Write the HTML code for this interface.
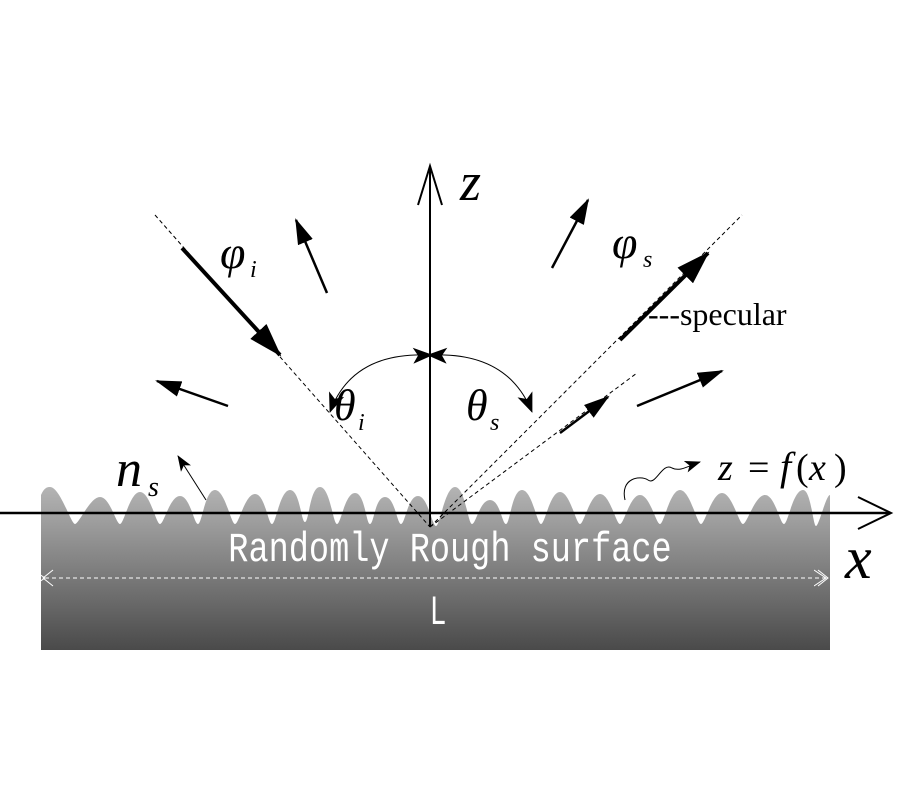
<!DOCTYPE html>
<html><head><meta charset="utf-8"><style>
html,body{margin:0;padding:0;background:#fff;}
svg{display:block}
</style></head><body>
<svg width="900" height="800" viewBox="0 0 900 800" xmlns="http://www.w3.org/2000/svg">
<defs>
<linearGradient id="g" x1="0" y1="0" x2="0" y2="1">
<stop offset="0" stop-color="#b4b4b4"/><stop offset="1" stop-color="#4a4a4a"/>
</linearGradient>
<marker id="big" markerUnits="userSpaceOnUse" markerWidth="34" markerHeight="22" refX="32" refY="11" orient="auto"><path d="M0,0 L34,11 L0,22 Z" fill="#000"/></marker>
<marker id="med" markerUnits="userSpaceOnUse" markerWidth="26" markerHeight="16" refX="24" refY="8" orient="auto"><path d="M0,0 L26,8 L0,16 Z" fill="#000"/></marker>
<marker id="sm" markerUnits="userSpaceOnUse" markerWidth="16" markerHeight="12" refX="15" refY="6" orient="auto"><path d="M0,0 L16,6 L0,12 L4,6 Z" fill="#000"/></marker>
<marker id="arc" markerUnits="userSpaceOnUse" markerWidth="20" markerHeight="16" refX="19" refY="8" orient="auto"><path d="M0,0 L20,8 L0,16 L5,8 Z" fill="#000"/></marker>
<marker id="wh" markerUnits="userSpaceOnUse" markerWidth="14" markerHeight="20" refX="12" refY="10" orient="auto"><path d="M0,2 L12,10 L0,18" fill="none" stroke="#fff" stroke-width="1"/></marker>
</defs>
<path fill="url(#g)" d="M41,650 L41,495 C44,488 47,487 50,487
C60,487 71,524 75,524 C79,524 90,497 100,497
C110,497 116,524 120,524 C124,524 130,492 140,492
C150,492 156,524 160,524 C164,524 170,496 180,496
C190,496 194,524 198,524 C202,524 205,490 215,490
C225,490 231,524 235,524 C239,524 245,494 255,494
C265,494 268,524 272,524 C276,524 280,490 290,490
C300,490 301,522 305,522 C309,522 310,487 320,487
C330,487 333,524 337,524 C341,524 345,493 355,493
C365,493 366,524 370,524 C374,524 375,497 385,497
C395,497 397,524 401,524 C405,524 408,496 418,496
C428,496 432,526 436,526 C440,526 445,487 455,487
C465,487 468,524 472,524 C476,524 480,500 490,500
C500,500 502,524 506,524 C510,524 512,490 522,490
C532,490 537,524 541,524 C545,524 550,492 560,492
C570,492 576,524 580,524 C584,524 590,494 600,494
C610,494 616,524 620,524 C624,524 630,495 640,495
C650,495 656,524 660,524 C664,524 670,490 680,490
C690,490 697,524 701,524 C705,524 712,493 722,493
C732,493 739,524 743,524 C747,524 755,495 765,495
C775,495 780,524 784,524 C788,524 793,490 803,490
C811,490 813,526 816,526 C819,526 826,495 830,495 L830,650 Z"/>
<line x1="0" y1="513" x2="890" y2="513" stroke="#000" stroke-width="2.5"/>
<path d="M858,497 L891,513 L858,529" fill="none" stroke="#000" stroke-width="2"/>
<line x1="430" y1="527" x2="430" y2="166" stroke="#000" stroke-width="2"/>
<path d="M418,205 L430,166 L442,205" fill="none" stroke="#000" stroke-width="2"/>
<g stroke="#000" stroke-width="1" stroke-dasharray="4,3" fill="none">
<line x1="155" y1="215" x2="430" y2="527"/>
<line x1="430" y1="527" x2="742" y2="215"/>
<line x1="430" y1="527" x2="637" y2="373"/>
</g>
<g stroke="#000" fill="none">
<line x1="182" y1="248" x2="280" y2="355" stroke-width="4" marker-end="url(#big)"/>
<line x1="620" y1="340" x2="708" y2="253" stroke-width="4" marker-end="url(#big)"/>
<line x1="327" y1="293" x2="296" y2="220" stroke-width="2.5" marker-end="url(#med)"/>
<line x1="228" y1="406" x2="157" y2="381" stroke-width="2.5" marker-end="url(#med)"/>
<line x1="552" y1="268" x2="588" y2="200" stroke-width="2.5" marker-end="url(#med)"/>
<line x1="560" y1="433" x2="608" y2="397" stroke-width="2.5" marker-end="url(#med)"/>
<line x1="637" y1="406" x2="722" y2="371" stroke-width="2.5" marker-end="url(#med)"/>
<line x1="206" y1="500" x2="178" y2="456" stroke-width="1" marker-end="url(#sm)"/>
<path d="M428,355 Q352,352 330,412" stroke-width="1" marker-start="url(#arc)" marker-end="url(#arc)"/>
<path d="M432,355 Q508,352 532,412" stroke-width="1" marker-start="url(#arc)" marker-end="url(#arc)"/>
<path d="M625,500 C620,478 640,475 648,480 C656,486 662,462 672,468 C680,472 688,466 700,462" stroke-width="1" marker-end="url(#sm)"/>
</g>
<line x1="45" y1="578" x2="826" y2="578" stroke="#fff" stroke-width="1" stroke-dasharray="4,3" marker-start="url(#wh)" marker-end="url(#wh)"/>
<path d="M53,570 L43,578 L53,586 M818,570 L828,578 L818,586" stroke="#fff" fill="none"/>
<g font-family="Liberation Serif, serif" font-style="italic" fill="#000">
<text x="460" y="200" font-size="54">z</text>
<text x="220" y="268" font-size="46">φ</text><text x="250" y="277" font-size="24">i</text>
<text x="612" y="258" font-size="46">φ</text><text x="643" y="267" font-size="24">s</text>
<text x="334" y="420" font-size="44">θ</text><text x="358" y="430" font-size="24">i</text>
<text x="466" y="420" font-size="44">θ</text><text x="490" y="430" font-size="24">s</text>
<text x="116" y="486" font-size="52">n</text><text x="148" y="496" font-size="28">s</text>
<text x="718" y="480" font-size="38">z</text>
<text x="748" y="480" font-size="38" font-style="normal">=</text>
<text x="780" y="480" font-size="40">f</text>
<text x="796" y="480" font-size="38" font-style="normal">(</text>
<text x="809" y="480" font-size="38">x</text>
<text x="834" y="480" font-size="38" font-style="normal">)</text>
<text x="845" y="578" font-size="60">x</text>
</g>
<text x="648" y="325" font-family="Liberation Serif, serif" font-size="32" fill="#000">---specular</text>
<text transform="translate(450,561) scale(1.2,1.5)" text-anchor="middle" font-family="Liberation Mono, monospace" font-size="28" fill="#fff" style="font-stretch:condensed">Randomly Rough surface</text>
<text transform="translate(438,624) scale(1.0,1.5)" text-anchor="middle" font-family="Liberation Mono, monospace" font-size="28" fill="#fff">L</text>
</svg>
</body></html>
